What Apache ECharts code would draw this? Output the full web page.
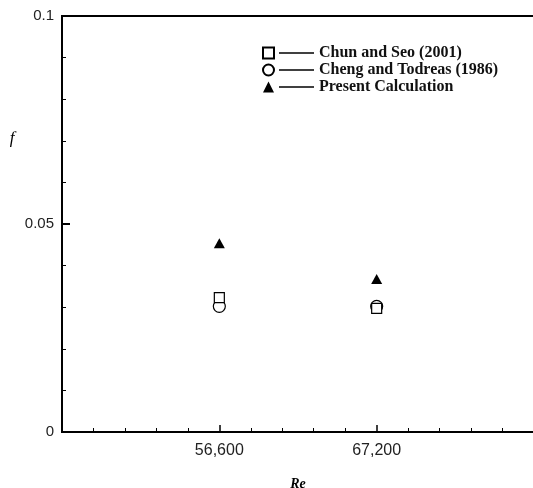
<!DOCTYPE html>
<html>
<head>
<meta charset="utf-8">
<script src="https://cdn.jsdelivr.net/npm/echarts@6/dist/echarts.min.js"></script>
<style>
  html, body { margin: 0; padding: 0; background: #fff; }
  #chart { width: 533px; height: 488px; }
</style>
</head>
<body>
<div id="chart"></div>
<script>
// Re values where the cases were run
const reValues = [56600, 67200]
// friction factor f
const chunSeo = [0.0323, 0.0297]
const chengTodreas = [0.0302, 0.0302]
const presentCalc = [0.0454, 0.0368]
// labelled ticks on the Re axis
const xTickLabels = [56600, 67200]
const seriesNames = ['Chun and Seo (2001)', 'Cheng and Todreas (1986)', 'Present Calculation']

const pairs = (ys) => reValues.map((x, i) => [x, ys[i]])

const chart = echarts.init(document.getElementById('chart'))

const axisFont = { fontFamily: 'Liberation Sans, Arial, sans-serif', fontSize: 16, color: '#222' }

chart.setOption({
  animation: false,
  grid: {
    left: 62,
    right: -1,
    top: 16,
    bottom: 56,
    outerBoundsMode: 'none',
    show: true,
    borderColor: '#000',
    borderWidth: 2
  },
  legend: {
    orient: 'vertical',
    left: 257,
    top: 40,
    itemGap: 1,
    itemWidth: 11,
    itemHeight: 11,
    data: seriesNames,
    formatter: name => '{ln|}{sp|}' + name,
    textStyle: {
      fontFamily: 'Liberation Serif, Times New Roman, serif',
      fontWeight: 'bold',
      fontSize: 16,
      color: '#111',
      rich: {
        ln: { width: 35, height: 1.5, backgroundColor: '#000' },
        sp: { width: 5 }
      }
    }
  },
  xAxis: {
    type: 'value',
    min: 46000,
    max: 77800,
    interval: 10600,
    name: 'Re',
    nameLocation: 'middle',
    nameGap: 45,
    nameTextStyle: {
      fontFamily: 'Liberation Serif, Times New Roman, serif',
      fontStyle: 'italic',
      fontWeight: 'bold',
      fontSize: 14,
      color: '#000'
    },
    splitLine: { show: false },
    axisLine: { lineStyle: { color: '#000', width: 2 } },
    axisTick: { inside: true, length: 7, lineStyle: { color: '#000', width: 1.5 } },
    minorTick: { show: true, splitNumber: 5, length: 4, lineStyle: { color: '#000', width: 1 } },
    axisLabel: {
      ...axisFont,
      margin: 11,
      formatter: v => xTickLabels.includes(v) ? v.toLocaleString('en-US') : ''
    }
  },
  yAxis: {
    type: 'value',
    min: 0,
    max: 0.1,
    interval: 0.05,
    name: 'f',
    nameLocation: 'end',
    nameGap: -131,
    nameMoveOverlap: false,
    nameTextStyle: {
      fontFamily: 'Liberation Serif, Times New Roman, serif',
      fontStyle: 'italic',
      fontSize: 17,
      color: '#000',
      align: 'center',
      padding: [0, 100, 0, 0]
    },
    splitLine: { show: false },
    axisLine: { lineStyle: { color: '#000', width: 2 } },
    axisTick: { inside: true, length: 8, lineStyle: { color: '#000', width: 2 } },
    minorTick: { show: true, splitNumber: 5, length: 4, lineStyle: { color: '#000', width: 1 } },
    axisLabel: { ...axisFont, fontSize: 15, margin: 8 }
  },
  series: [{
    name: seriesNames[0],
    type: 'scatter',
    symbol: 'rect',
    symbolSize: 10,
    itemStyle: { color: '#fff', borderColor: '#000', borderWidth: 1.2, opacity: 1 },
    data: pairs(chunSeo),
    z: 3
  }, {
    name: seriesNames[1],
    type: 'scatter',
    symbol: 'circle',
    symbolSize: 12,
    itemStyle: { color: '#fff', borderColor: '#000', borderWidth: 1.2, opacity: 1 },
    data: pairs(chengTodreas),
    z: 2
  }, {
    name: seriesNames[2],
    type: 'scatter',
    symbol: 'triangle',
    symbolSize: [11, 10],
    itemStyle: { color: '#000', opacity: 1 },
    data: pairs(presentCalc)
  }]
})
</script>
</body>
</html>
